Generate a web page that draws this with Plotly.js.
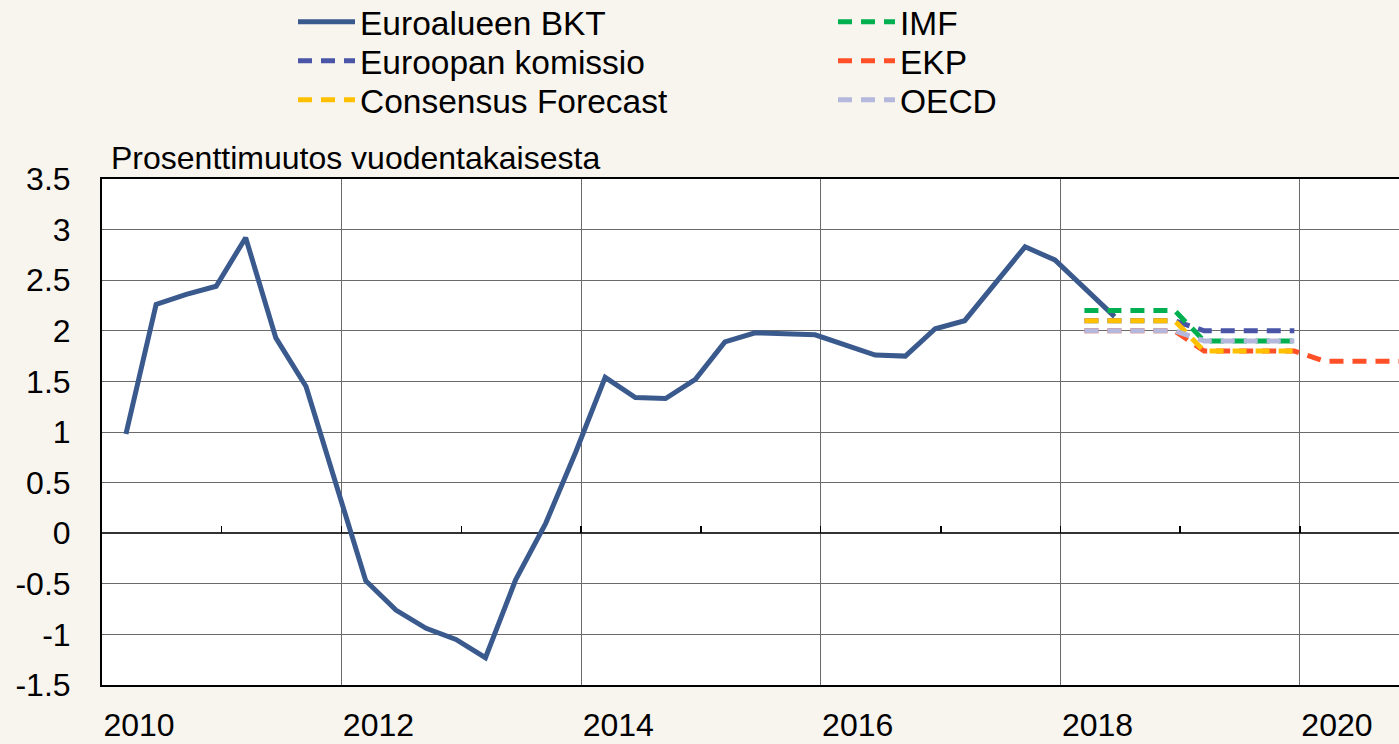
<!DOCTYPE html>
<html>
<head>
<meta charset="utf-8">
<script src="https://cdn.plot.ly/plotly-3.0.1.min.js"></script>
<style>html,body{margin:0;padding:0;background:#f8f4ee;}#chart{width:1399px;height:744px;}</style>
</head>
<body>
<div id="chart"></div>
<script>
// Quarterly observation dates (middle of last month of each quarter)
const bktQuarters = [
  '2010-03-15','2010-06-15','2010-09-15','2010-12-15',
  '2011-03-15','2011-06-15','2011-09-15','2011-12-15',
  '2012-03-15','2012-06-15','2012-09-15','2012-12-15',
  '2013-03-15','2013-06-15','2013-09-15','2013-12-15',
  '2014-03-15','2014-06-15','2014-09-15','2014-12-15',
  '2015-03-15','2015-06-15','2015-09-15','2015-12-15',
  '2016-03-15','2016-06-15','2016-09-15','2016-12-15',
  '2017-03-15','2017-06-15','2017-09-15','2017-12-15',
  '2018-03-15','2018-06-15'
];
const bktValues = [
  0.98, 2.26, 2.36, 2.44,
  2.92, 1.93, 1.45, 0.50,
  -0.47, -0.76, -0.94, -1.05,
  -1.23, -0.46, 0.10, 0.80,
  1.54, 1.34, 1.33, 1.52,
  1.89, 1.98, 1.97, 1.96,
  1.86, 1.76, 1.75, 2.02,
  2.10, 2.47, 2.83, 2.70,
  2.42, 2.14
];

const forecastQuarters = [
  '2018-03-15','2018-06-15','2018-09-15','2018-12-15',
  '2019-03-15','2019-06-15','2019-09-15','2019-12-15'
];
const ekpQuarters = [
  '2018-03-15','2018-06-15','2018-09-15','2018-12-15',
  '2019-03-15','2019-06-15','2019-09-15','2019-12-15',
  '2020-03-15','2020-06-15','2020-09-15','2020-12-15'
];
const imfValues       = [2.2, 2.2, 2.2, 2.2, 1.9, 1.9, 1.9, 1.9];
const komissioValues  = [2.1, 2.1, 2.1, 2.1, 2.0, 2.0, 2.0, 2.0];
const ekpValues       = [2.0, 2.0, 2.0, 2.0, 1.8, 1.8, 1.8, 1.8, 1.7, 1.7, 1.7, 1.7];
const consensusValues = [2.1, 2.1, 2.1, 2.1, 1.8, 1.8, 1.8, 1.8];
const oecdValues      = [2.0, 2.0, 2.0, 2.0, 1.9, 1.9, 1.9, 1.9];

const seriesNames = ['Euroalueen BKT', 'IMF', 'Euroopan komissio', 'EKP', 'Consensus Forecast', 'OECD'];

const xTickVals = ['2010-01-01','2012-01-01','2014-01-01','2016-01-01','2018-01-01','2020-01-01'];
const xTickText = ['2010','2012','2014','2016','2018','2020'];
const yTickVals = [-1.5, -1, -0.5, 0, 0.5, 1, 1.5, 2, 2.5, 3, 3.5];
const yTickText = ['-1.5','-1','-0.5','0','0.5','1','1.5','2','2.5','3','3.5'];

const yTitle = 'Prosenttimuutos vuodentakaisesta';

const FONT = 'Liberation Sans, Arial, sans-serif';
const DASH = '14px,9px';
const LW = 5;

const traces = [
  {x: bktQuarters, y: bktValues, name: seriesNames[0], mode: 'lines', legend: 'legend', legendrank: 1,
   line: {color: '#3a5a8e', width: LW}},
  {x: forecastQuarters, y: komissioValues, name: seriesNames[2], mode: 'lines', legend: 'legend2', legendrank: 1,
   line: {color: '#4a55a8', width: LW, dash: DASH}},
  {x: forecastQuarters, y: imfValues, name: seriesNames[1], mode: 'lines', legend: 'legend', legendrank: 2,
   line: {color: '#00b050', width: LW, dash: DASH}},
  {x: ekpQuarters, y: ekpValues, name: seriesNames[3], mode: 'lines', legend: 'legend2', legendrank: 2,
   line: {color: '#ff5028', width: LW, dash: DASH}},
  {x: forecastQuarters, y: consensusValues, name: seriesNames[4], mode: 'lines', legend: 'legend3', legendrank: 1,
   line: {color: '#ffc000', width: LW, dash: DASH}},
  {x: forecastQuarters, y: oecdValues, name: seriesNames[5], mode: 'lines', legend: 'legend3', legendrank: 2,
   line: {color: '#b3b8dc', width: LW, dash: DASH}},
  // carrier for the yearly tick marks on the zero line (invisible)
  {x: bktQuarters, y: bktValues, xaxis: 'x2', mode: 'lines', opacity: 0, showlegend: false,
   hoverinfo: 'skip', line: {width: 0}}
];

const xRange = ['2010-01-01', '2020-10-29'];

function legendAt(rowCenterPx) {
  return {
    orientation: 'h', xref: 'container', yref: 'container',
    x: 293/1399, y: 1 - rowCenterPx/744, xanchor: 'left', yanchor: 'middle',
    font: {family: FONT, size: 33.5, color: '#000'},
    itemwidth: 57, entrywidth: 468, entrywidthmode: 'pixels',
    bgcolor: 'rgba(0,0,0,0)', borderwidth: 0, traceorder: 'normal'
  };
}

const layout = {
  width: 1399, height: 744,
  margin: {l: 102, r: 0, t: 179, b: 59, pad: 0, autoexpand: false},
  paper_bgcolor: '#f8f4ee',
  plot_bgcolor: '#ffffff',
  font: {family: FONT, size: 32, color: '#000'},
  showlegend: true,
  legend: legendAt(22),
  legend2: legendAt(61),
  legend3: legendAt(100),
  xaxis: {
    type: 'date', range: xRange,
    tickvals: xTickVals, ticktext: xTickText,
    showgrid: true, gridcolor: '#6a6a6a', gridwidth: 1,
    showline: true, linecolor: '#000', linewidth: 2, mirror: true,
    ticks: '', ticklabelshift: 37, ticklabelstandoff: 11,
    tickfont: {family: FONT, size: 32, color: '#000'},
    zeroline: false, fixedrange: true
  },
  xaxis2: {
    type: 'date', range: xRange, overlaying: 'x', anchor: 'free', position: 0.3,
    tick0: '2010-01-01', dtick: 'M12',
    ticks: 'inside', ticklen: 7, tickwidth: 1.5, tickcolor: '#000',
    showticklabels: false, showgrid: false, showline: false, zeroline: false, fixedrange: true
  },
  yaxis: {
    range: [-1.5, 3.5],
    tickvals: yTickVals, ticktext: yTickText,
    showgrid: true, gridcolor: '#6a6a6a', gridwidth: 1,
    zeroline: true, zerolinecolor: '#333', zerolinewidth: 2,
    showline: true, linecolor: '#000', linewidth: 2,
    ticks: '', ticklabelstandoff: 23,
    tickfont: {family: FONT, size: 32, color: '#000'},
    fixedrange: true
  },
  annotations: [{
    text: yTitle, xref: 'paper', yref: 'paper', x: 0, y: 1,
    xanchor: 'left', yanchor: 'middle', xshift: 7, yshift: 21,
    showarrow: false, font: {family: FONT, size: 32, color: '#000'}
  }]
};

Plotly.newPlot('chart', traces, layout, {staticPlot: true, displayModeBar: false});
</script>
</body>
</html>
